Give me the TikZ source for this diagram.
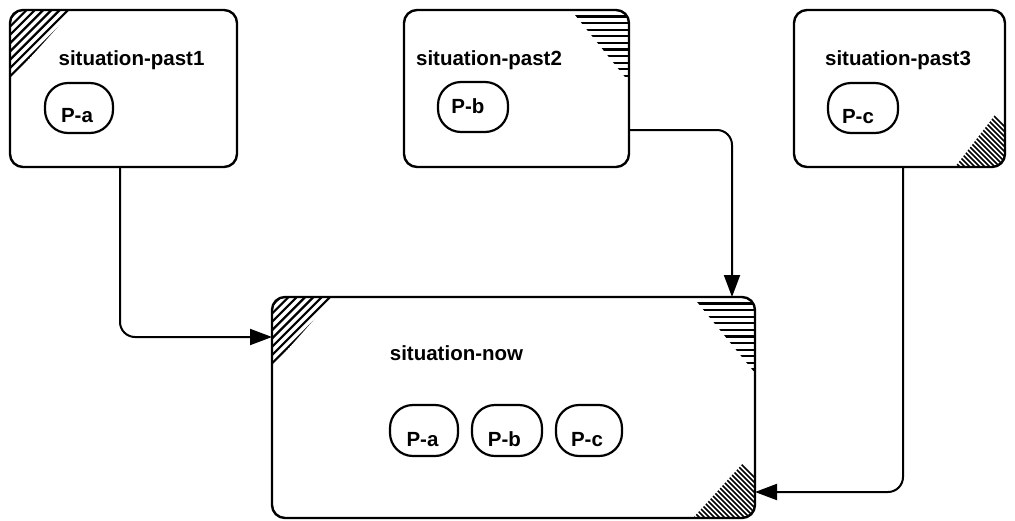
\documentclass[tikz,border=0pt]{standalone}
\usepackage{fontspec}
\setmainfont{Liberation Sans}
\usetikzlibrary{arrows.meta,calc}
\tikzset{
  sitbox/.style={draw, line width=2.4pt, rounded corners=13pt, outer sep=0pt, inner sep=0pt},
  pill/.style={draw, line width=2.2pt, rounded corners=23pt, outer sep=0pt, inner sep=0pt},
  lbl/.style={font=\bfseries\fontsize{20.5}{24}\selectfont, inner sep=0pt, anchor=base},
  conn/.style={line width=2pt, rounded corners=15pt, -{Triangle[length=22pt,width=16pt]}},
  hatchA/.style={line width=2.2pt},
  hatchB/.style={line width=1.7pt},
}
\newcommand\hatchNW[3]{%
  \begin{scope}
    \clip[rounded corners=13pt] (#1.north west) rectangle (#1.south east);
    \begin{scope}[shift={(#1.north west)}]
      \clip (0,0) -- (#2,0) -- (0,#3) -- cycle;
      \foreach \c in {0,8.3,...,180} \draw[hatchA] (\c,0) -- (0,\c);
    \end{scope}
  \end{scope}}
\newcommand\hatchNE[3]{%
  \begin{scope}
    \clip[rounded corners=13pt] (#1.north west) rectangle (#1.south east);
    \begin{scope}[shift={(#1.north east)}]
      \clip (0,0) -- (-#2,0) -- (0,#3) -- cycle;
      \foreach \c in {6.5,13.1,...,90} \draw[hatchA] (-100,\c) -- (0,\c);
    \end{scope}
  \end{scope}}
\newcommand\hatchSE[3]{%
  \begin{scope}
    \clip[rounded corners=13pt] (#1.north west) rectangle (#1.south east);
    \begin{scope}[shift={(#1.south east)}]
      \clip (0,0) -- (-#2,0) -- (0,-#3) -- cycle;
      \foreach \c in {-120,-115,...,40} \draw[hatchB] (\c,0) -- (\c-100,-100);
    \end{scope}
  \end{scope}}
\begin{document}
\begin{tikzpicture}[x=1pt,y=-1pt]
\useasboundingbox (0,0) rectangle (1015,520);

% boxes
\node[sitbox, minimum width=227pt, minimum height=157pt] (b1) at (123.5,88.5) {};
\node[sitbox, minimum width=225pt, minimum height=157pt] (b2) at (516.5,88.5) {};
\node[sitbox, minimum width=211pt, minimum height=157pt] (b3) at (899.5,88.5) {};
\node[sitbox, minimum width=483pt, minimum height=221pt] (now) at (513.5,407.5) {};

% hatches
\hatchNW{b1}{63}{70}
\hatchNE{b2}{58}{72}
\hatchSE{b3}{50}{65}
\hatchNW{now}{62}{70}
\hatchNE{now}{62}{76}
\hatchSE{now}{62}{68}

% titles
\node[lbl] (t1) at (131.5,65) {situation-past1};
\node[lbl] (t2) at (489,65) {situation-past2};
\node[lbl] (t3) at (898,65) {situation-past3};
\node[lbl] (tn) at (456.5,360) {situation-now};

% pills
\node[pill, minimum width=68pt, minimum height=50pt] (p1) at (79,108) {};
\node[pill, minimum width=70pt, minimum height=50pt] (p2) at (473,107) {};
\node[pill, minimum width=70pt, minimum height=50pt] (p3) at (863,108) {};
\node[pill, minimum width=68pt, minimum height=51pt] (n1) at (424,430.5) {};
\node[pill, minimum width=70pt, minimum height=51pt] (n2) at (507,430.5) {};
\node[pill, minimum width=66pt, minimum height=51pt] (n3) at (589,430.5) {};

\node[lbl] (p1t) at (77,122) {P-a};
\node[lbl] (p2t) at (468,113) {P-b};
\node[lbl] (p3t) at (858,123) {P-c};
\node[lbl] (n1t) at (422.5,446) {P-a};
\node[lbl] (n2t) at (504.5,446) {P-b};
\node[lbl] (n3t) at (587,446) {P-c};

% connectors
\draw[conn] ([xshift=-3.5pt]b1.south) |- ([yshift=70.5pt]now.west);
\draw[conn] ([yshift=-41.5pt]b2.east) -| ([xshift=218.5pt]now.north);
\draw[conn] ([xshift=3.5pt]b3.south) |- ([yshift=-84.5pt]now.east);
\end{tikzpicture}
\end{document}
